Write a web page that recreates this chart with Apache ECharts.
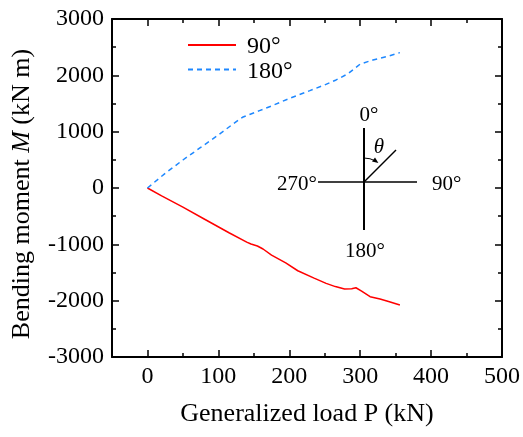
<!DOCTYPE html>
<html><head><meta charset="utf-8">
<script src="https://cdn.jsdelivr.net/npm/echarts@6/dist/echarts.min.js"></script>
<style>html,body{margin:0;padding:0;background:#fff}#c{width:523px;height:437px}</style>
</head><body><div id="c"></div>
<script>
// Data
const p90  = [0, 20, 50, 80, 115, 140, 146, 155, 163, 175, 195, 212, 235, 252, 265, 278, 288, 294, 302, 314, 328, 340, 356];
const m90  = [0, -140, -340, -550, -794, -960, -995, -1030, -1083, -1190, -1330, -1469, -1600, -1693, -1750, -1794, -1790, -1771, -1830, -1930, -1972, -2015, -2078];
const p180 = [0, 25, 50, 75, 100, 120, 134, 145, 158, 175, 200, 229, 250, 266, 283, 292, 300, 318, 340, 356];
const m180 = [0, 260, 497, 720, 941, 1130, 1255, 1310, 1373, 1456, 1590, 1728, 1830, 1918, 2030, 2120, 2200, 2273, 2340, 2403];
const xMajor = [0, 100, 200, 300, 400, 500];
const xMinor = [50, 150, 250, 350, 450];
const seriesNames = ['90°', '180°'];
const xTitle = 'Generalized load P (kN)';

const FONT = '"Times New Roman", "Liberation Serif", serif';
const zip = (a, b) => a.map((v, i) => [v, b[i]]);
const black = '#000';

function xAx(pos, ticks, len, showLine, showLabel, extra) {
  return Object.assign({
    type: 'value', position: pos, min: -50, max: 500, gridIndex: 0,
    splitLine: {show: false},
    axisLine: {show: showLine, onZero: false, lineStyle: {color: black, width: 2}},
    axisTick: {show: true, inside: true, length: len, customValues: ticks, lineStyle: {color: black, width: 1.5}},
    axisLabel: showLabel ? {show: true, customValues: xMajor, margin: 8, color: black, fontFamily: FONT, fontSize: 24, formatter: v => String(v)} : {show: false}
  }, extra || {});
}
function yAx(pos, showLabel, extra) {
  return Object.assign({
    type: 'value', position: pos, min: -3000, max: 3000, interval: 1000,
    splitLine: {show: false},
    axisLine: {show: true, onZero: false, lineStyle: {color: black, width: 2}},
    axisTick: {show: true, inside: true, length: 7, lineStyle: {color: black, width: 1.5}},
    minorTick: {show: true, splitNumber: 2, length: 4, lineStyle: {color: black, width: 1.5}},
    axisLabel: showLabel ? {show: true, margin: 8, color: black, fontFamily: FONT, fontSize: 24, formatter: v => String(v)} : {show: false}
  }, extra || {});
}

const cx = 364, cy = 182;
const legendTop = 33, legendStep = 26;
const chart = echarts.init(document.getElementById('c'), null, {renderer: 'canvas'});
chart.setOption({
  animation: false,
  backgroundColor: '#fff',
  textStyle: {fontFamily: FONT, color: black},
  grid: {left: 112, right: 19, top: 19, bottom: 80, containLabel: false},
  legend: {
    show: true, left: 182, top: legendTop, orient: 'vertical', itemWidth: 48, itemHeight: 14, itemGap: legendStep - 14,
    itemStyle: {color: 'rgba(0,0,0,0)', borderWidth: 0},
    formatter: () => '',
    data: seriesNames
  },
  xAxis: [
    xAx('bottom', xMajor, 7, true, true, {
      name: xTitle, nameLocation: 'middle', nameGap: 44,
      nameTextStyle: {fontFamily: FONT, fontSize: 26, color: black}
    }),
    xAx('bottom', xMinor, 4, false, false),
    xAx('top', xMajor, 7, true, false),
    xAx('top', xMinor, 4, false, false)
  ],
  yAxis: [
    yAx('left', true, {
      name: 'Bending moment {i|M} (kN m)', nameLocation: 'middle', nameGap: 77, nameRotate: 90,
      nameTextStyle: {fontFamily: FONT, fontSize: 26, color: black, padding: [0, 12, 0, 0],
        rich: {i: {fontFamily: FONT, fontSize: 26, fontStyle: 'italic', color: black}}}
    }),
    yAx('right', false)
  ],
  series: [
    {name: seriesNames[0], type: 'line', data: zip(p90, m90), showSymbol: false, symbol: 'none',
     lineStyle: {color: '#ff0000', width: 1.5}, itemStyle: {color: '#ff0000'}},
    {name: seriesNames[1], type: 'line', data: zip(p180, m180), showSymbol: false, symbol: 'none',
     lineStyle: {color: '#1e88ff', width: 1.5, type: [5, 4]}, itemStyle: {color: '#1e88ff'}}
  ],
  graphic: [
    // legend labels (serif)
    {type: 'text', x: 247, y: 47, style: {text: seriesNames[0], font: '24px ' + FONT, fill: black, align: 'left', verticalAlign: 'middle'}},
    {type: 'text', x: 247, y: 72, style: {text: seriesNames[1], font: '24px ' + FONT, fill: black, align: 'left', verticalAlign: 'middle'}},
    // orientation diagram
    {type: 'line', shape: {x1: cx, y1: 128, x2: cx, y2: 230}, style: {stroke: black, lineWidth: 2}},
    {type: 'line', shape: {x1: 318, y1: cy, x2: 417, y2: cy}, style: {stroke: black, lineWidth: 1.5}},
    {type: 'line', shape: {x1: cx, y1: cy, x2: 396, y2: 150}, style: {stroke: black, lineWidth: 1.5}},
    {type: 'arc', shape: {cx: cx, cy: cy, r: 24, startAngle: -Math.PI / 2, endAngle: -Math.PI / 2 + 0.5, clockwise: true},
     style: {stroke: black, lineWidth: 1, fill: null}},
    {type: 'polygon', shape: {points: [[378.4, 162.9], [372.0, 161.4], [375.0, 157.4]]}, style: {fill: black}},
    {type: 'text', x: 369, y: 115, style: {text: '0°', font: '21px ' + FONT, fill: black, align: 'center', verticalAlign: 'middle'}},
    {type: 'text', x: 379, y: 147, style: {text: 'θ', font: 'italic 21px ' + FONT, fill: black, align: 'center', verticalAlign: 'middle'}},
    {type: 'text', x: 317, y: 184, style: {text: '270°', font: '21px ' + FONT, fill: black, align: 'right', verticalAlign: 'middle'}},
    {type: 'text', x: 432, y: 184, style: {text: '90°', font: '21px ' + FONT, fill: black, align: 'left', verticalAlign: 'middle'}},
    {type: 'text', x: 365, y: 251, style: {text: '180°', font: '21px ' + FONT, fill: black, align: 'center', verticalAlign: 'middle'}}
  ]
});
</script></body></html>
